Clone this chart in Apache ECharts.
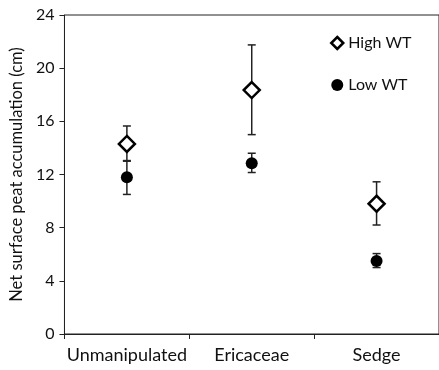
<!DOCTYPE html>
<html><head><meta charset="utf-8">
<script src="https://cdn.jsdelivr.net/npm/echarts@6/dist/echarts.min.js"></script>
<style>html,body{margin:0;padding:0;background:#fff}#c{width:439px;height:370px}</style>
</head><body><div id="c"></div>
<script>
var categories = ['Unmanipulated', 'Ericaceae', 'Sedge'];
var highWT = [14.3, 18.35, 9.8];
var highWTUpper = [15.65, 21.75, 11.45];
var highWTLower = [13.0, 15.0, 8.2];
var lowWT = [11.8, 12.85, 5.5];
var lowWTUpper = [13.05, 13.6, 6.05];
var lowWTLower = [10.5, 12.15, 5.0];
var yTicks = [0, 4, 8, 12, 16, 20, 24];

var FONT = 'Lato';
function errData(lo, hi) {
  return categories.map(function (c, i) { return [i, lo[i], hi[i]]; });
}
function errSeries(lo, hi) {
  return {
    type: 'custom', silent: true, z: 1,
    data: errData(lo, hi),
    encode: { x: 0, y: [1, 2] },
    renderItem: function (params, api) {
      var x = api.value(0);
      var p1 = api.coord([x, api.value(1)]);
      var p2 = api.coord([x, api.value(2)]);
      var hw = 4;
      var st = { stroke: '#222', lineWidth: 1.5 };
      return { type: 'group', children: [
        { type: 'line', shape: { x1: p1[0], y1: p1[1], x2: p2[0], y2: p2[1] }, style: st },
        { type: 'line', shape: { x1: p1[0] - hw, y1: p1[1], x2: p1[0] + hw, y2: p1[1] }, style: st },
        { type: 'line', shape: { x1: p2[0] - hw, y1: p2[1], x2: p2[0] + hw, y2: p2[1] }, style: st }
      ]};
    }
  };
}
var chart = echarts.init(document.getElementById('c'));
chart.setOption({
  animation: false,
  backgroundColor: '#fff',
  textStyle: { fontFamily: FONT },
  grid: { left: 63, right: -4, top: 15, bottom: 36, show: true, borderColor: '#222', borderWidth: 1, containLabel: false },
  legend: {
    orient: 'vertical', left: 325, top: 30, itemGap: 26, itemWidth: 12, itemHeight: 12,
    textStyle: { fontFamily: FONT, fontSize: 16, color: '#111' },
    data: [
      { name: 'High WT', itemStyle: { color: '#fff', borderColor: '#000', borderWidth: 2.5 } },
      { name: 'Low WT', itemStyle: { color: '#000' } }
    ]
  },
  xAxis: {
    type: 'category', data: categories, boundaryGap: true,
    axisLine: { lineStyle: { color: '#222', width: 1 } },
    axisTick: { show: true, inside: false, length: 5, lineStyle: { color: '#222' } },
    axisLabel: { interval: 0, fontFamily: FONT, fontSize: 18, color: '#111', margin: 12 },
    splitLine: { show: false }
  },
  yAxis: {
    type: 'value', min: yTicks[0], max: yTicks[yTicks.length - 1], interval: 4,
    name: 'Net surface peat accumulation (cm)', nameLocation: 'middle', nameGap: 36,
    nameTextStyle: { fontFamily: FONT, fontSize: 16.5, color: '#111' },
    axisLine: { show: true, lineStyle: { color: '#222', width: 1 } },
    axisTick: { show: true, inside: false, length: 5, lineStyle: { color: '#222' } },
    axisLabel: { fontFamily: FONT, fontSize: 16, color: '#111', margin: 10 },
    splitLine: { show: false }
  },
  series: [
    errSeries(highWTLower, highWTUpper),
    errSeries(lowWTLower, lowWTUpper),
    {
      name: 'High WT', type: 'scatter', symbol: 'diamond', symbolSize: 16, z: 3,
      itemStyle: { color: '#fff', borderColor: '#000', borderWidth: 2.5, opacity: 1 },
      data: highWT
    },
    {
      name: 'Low WT', type: 'scatter', symbol: 'circle', symbolSize: 12, z: 3,
      itemStyle: { color: '#000', opacity: 1 },
      data: lowWT
    }
  ]
});
</script></body></html>
